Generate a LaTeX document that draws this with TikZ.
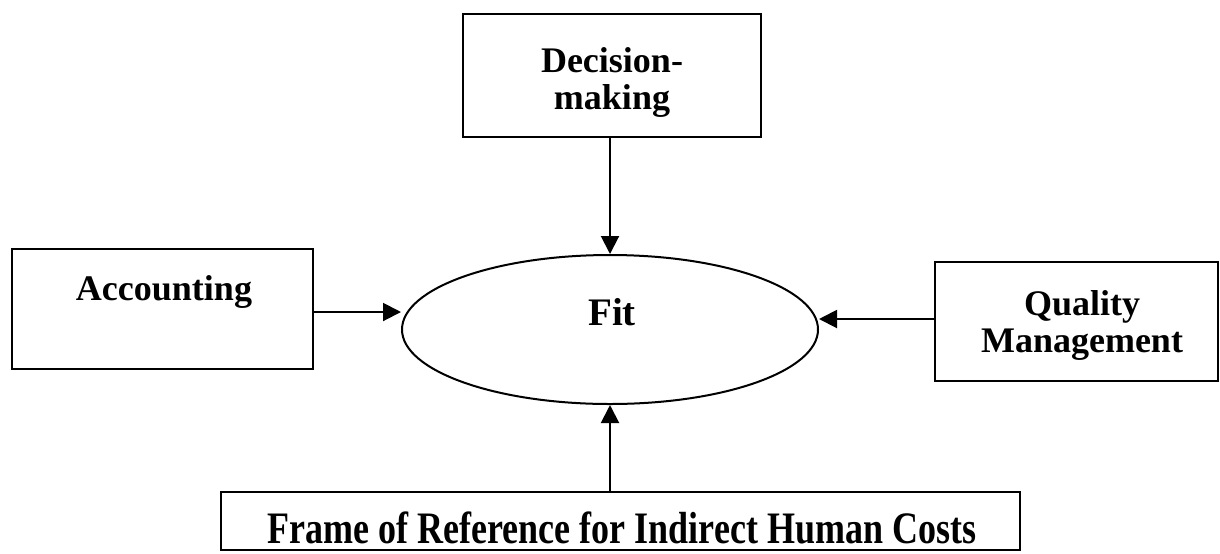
\documentclass[tikz,border=0pt]{standalone}
\usepackage{fontspec}
\setmainfont{Liberation Serif}
\usetikzlibrary{shapes.geometric,arrows.meta}
\begin{document}
\begin{tikzpicture}[x=0.5pt,y=-0.5pt,
  boxnode/.style={draw,line width=1.2pt,inner sep=0pt},
  lbl/.style={font=\fontsize{18}{18.5}\selectfont\bfseries,align=center,inner sep=0pt},
  arr/.style={line width=1pt,-{Triangle[length=9pt,width=9pt]}}]
\useasboundingbox (0,0) rectangle (1220,553);
% boxes
\node[boxnode,minimum width=149pt,minimum height=61.5pt] (dec) at (612,75.5) {};
\node[boxnode,minimum width=150.5pt,minimum height=60pt] (acc) at (162.5,309) {};
\node[boxnode,minimum width=141.5pt,minimum height=59.5pt] (qm) at (1076.5,321.5) {};
\node[boxnode,minimum width=399.5pt,minimum height=29pt] (frm) at (620.5,521) {};
\node[draw,ellipse,line width=1pt,inner sep=0pt,minimum width=208pt,minimum height=74.5pt] (ell) at (610,329.5) {};
% labels
\node[lbl] (tdec) at (612,82) {Decision-\\making};
\node[lbl,anchor=base] (tacc) at (164,300) {Accounting};
\node[lbl] (tqm) at (1082,325.5) {Quality\\Management};
\node[lbl,anchor=base] (tfit) at (612,325) {\fontsize{19.5}{20}\selectfont Fit};
\node[lbl,anchor=base] (tfrm) at (622,543) {\scalebox{1}[1.25]{Frame of Reference for Indirect Human Costs}};
% connectors
\draw[arr] (ell.north |- dec.south) -- (ell.north);
\draw[arr] (acc.east |- 0,312) -- (ell.west |- 0,312);
\draw[arr] (qm.west |- 0,319) -- (ell.east |- 0,319);
\draw[arr] (ell.south |- frm.north) -- (ell.south);
\end{tikzpicture}
\end{document}
